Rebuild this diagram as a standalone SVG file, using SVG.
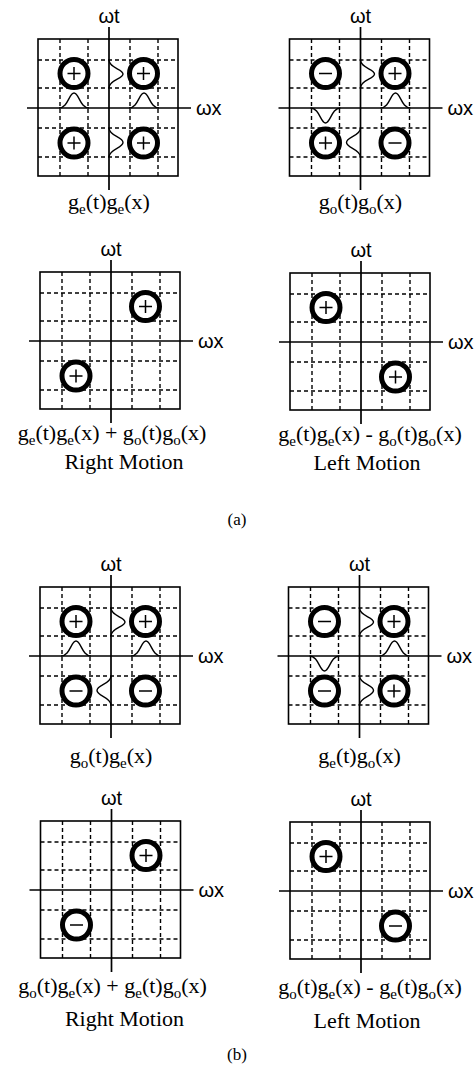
<svg xmlns="http://www.w3.org/2000/svg" xmlns:xlink="http://www.w3.org/1999/xlink" width="474" height="1074" viewBox="0 0 474 1074">
<style>
.box{fill:none;stroke:#000;stroke-width:1.6}
.grid{fill:none;stroke:#000;stroke-width:1.4;stroke-dasharray:4 3}
.axis{fill:none;stroke:#000;stroke-width:1.7}
.ring{fill:#fff;stroke:#000;stroke-width:5}
.sign{fill:none;stroke:#000;stroke-width:1.5}
.bump{fill:none;stroke:#000;stroke-width:1.4}
.ax{font-family:"Liberation Sans",Arial,sans-serif;font-size:20px;fill:#000}
.lab{font-family:"Liberation Serif","Times New Roman",serif;font-size:22px;fill:#000}
.sub{font-size:15px}
.cap{font-family:"Liberation Serif","Times New Roman",serif;font-size:17px;fill:#000}
</style>
<defs>
<g id="frame">
<rect class="box" x="0" y="0" width="140" height="137"/>
<path class="grid" d="M22,0V137M50,0V137M92,0V137M120,0V137M0,21H140M0,49H140M0,89H140M0,118H140"/>
<path class="axis" d="M71,-12V151M-11,69H153"/>
<text class="ax" x="71" y="-16" text-anchor="middle">ωt</text>
<text class="ax" x="158" y="76">ωx</text>
</g>
<g id="pos"><circle class="ring" r="14"/><path class="sign" d="M-6.5,0H6.5M0,-6.5V6.5"/></g>
<g id="neg"><circle class="ring" r="14"/><path class="sign" d="M-6.5,0H6.5"/></g>
</defs>

<g id="p1" transform="translate(38,39)">
<use xlink:href="#frame"/>
<path class="bump" d="M21,69C30,69 31,54 36,54C41,54 42,69 51,69M91,69C100,69 101,54 106,54C111,54 112,69 121,69M71,21C71,29 85,30 85,35C85,40 71,41 71,49M71,89C71,97 85,98 85,103.5C85,109 71,110 71,118"/>
<use xlink:href="#pos" x="36" y="34.5"/><use xlink:href="#pos" x="105.5" y="34.5"/>
<use xlink:href="#pos" x="36" y="104"/><use xlink:href="#pos" x="105.5" y="104"/>
<text class="lab" x="71" y="170" text-anchor="middle">g<tspan class="sub" dy="5">e</tspan><tspan dy="-5">(t)g</tspan><tspan class="sub" dy="5">e</tspan><tspan dy="-5">(x)</tspan></text>
</g>

<g id="p2" transform="translate(289.5,39)">
<use xlink:href="#frame"/>
<path class="bump" d="M21,69C30,69 31,84 36,84C41,84 42,69 51,69M91,69C100,69 101,54 106,54C111,54 112,69 121,69M71,21C71,29 85,30 85,35C85,40 71,41 71,49M71,89C71,97 57,98 57,103.5C57,109 71,110 71,118"/>
<use xlink:href="#neg" x="36" y="34.5"/><use xlink:href="#pos" x="105.5" y="34.5"/>
<use xlink:href="#pos" x="36" y="104"/><use xlink:href="#neg" x="105.5" y="104"/>
<text class="lab" x="71" y="170" text-anchor="middle">g<tspan class="sub" dy="5">o</tspan><tspan dy="-5">(t)g</tspan><tspan class="sub" dy="5">o</tspan><tspan dy="-5">(x)</tspan></text>
</g>

<g id="p3" transform="translate(40,272)">
<use xlink:href="#frame"/>
<use xlink:href="#pos" x="105.5" y="34.5"/><use xlink:href="#pos" x="36" y="104"/>
<text class="lab" x="72" y="168" text-anchor="middle">g<tspan class="sub" dy="5">e</tspan><tspan dy="-5">(t)g</tspan><tspan class="sub" dy="5">e</tspan><tspan dy="-5">(x) + g</tspan><tspan class="sub" dy="5">o</tspan><tspan dy="-5">(t)g</tspan><tspan class="sub" dy="5">o</tspan><tspan dy="-5">(x)</tspan></text>
<text class="lab" x="84" y="197" text-anchor="middle">Right Motion</text>
</g>

<g id="p4" transform="translate(290,273)">
<use xlink:href="#frame"/>
<use xlink:href="#pos" x="36" y="34.5"/><use xlink:href="#pos" x="105.5" y="104"/>
<text class="lab" x="80" y="168" text-anchor="middle">g<tspan class="sub" dy="5">e</tspan><tspan dy="-5">(t)g</tspan><tspan class="sub" dy="5">e</tspan><tspan dy="-5">(x) - g</tspan><tspan class="sub" dy="5">o</tspan><tspan dy="-5">(t)g</tspan><tspan class="sub" dy="5">o</tspan><tspan dy="-5">(x)</tspan></text>
<text class="lab" x="77" y="197" text-anchor="middle">Left Motion</text>
</g>

<text id="cap-a" class="cap" x="237" y="525" text-anchor="middle">(a)</text>

<g id="p5" transform="translate(40,587)">
<use xlink:href="#frame"/>
<path class="bump" d="M21,69C30,69 31,54 36,54C41,54 42,69 51,69M91,69C100,69 101,54 106,54C111,54 112,69 121,69M71,21C71,29 85,30 85,35C85,40 71,41 71,49M71,89C71,97 57,98 57,103.5C57,109 71,110 71,118"/>
<use xlink:href="#pos" x="36" y="34.5"/><use xlink:href="#pos" x="105.5" y="34.5"/>
<use xlink:href="#neg" x="36" y="104"/><use xlink:href="#neg" x="105.5" y="104"/>
<text class="lab" x="71" y="176" text-anchor="middle">g<tspan class="sub" dy="5">o</tspan><tspan dy="-5">(t)g</tspan><tspan class="sub" dy="5">e</tspan><tspan dy="-5">(x)</tspan></text>
</g>

<g id="p6" transform="translate(288.5,587)">
<use xlink:href="#frame"/>
<path class="bump" d="M21,69C30,69 31,84 36,84C41,84 42,69 51,69M91,69C100,69 101,54 106,54C111,54 112,69 121,69M71,21C71,29 85,30 85,35C85,40 71,41 71,49M71,89C71,97 85,98 85,103.5C85,109 71,110 71,118"/>
<use xlink:href="#neg" x="36" y="34.5"/><use xlink:href="#pos" x="105.5" y="34.5"/>
<use xlink:href="#neg" x="36" y="104"/><use xlink:href="#pos" x="105.5" y="104"/>
<text class="lab" x="71" y="176" text-anchor="middle">g<tspan class="sub" dy="5">e</tspan><tspan dy="-5">(t)g</tspan><tspan class="sub" dy="5">o</tspan><tspan dy="-5">(x)</tspan></text>
</g>

<g id="p7" transform="translate(40.5,821)">
<use xlink:href="#frame"/>
<use xlink:href="#pos" x="105.5" y="34.5"/><use xlink:href="#neg" x="36" y="104"/>
<text class="lab" x="72" y="172" text-anchor="middle">g<tspan class="sub" dy="5">o</tspan><tspan dy="-5">(t)g</tspan><tspan class="sub" dy="5">e</tspan><tspan dy="-5">(x) + g</tspan><tspan class="sub" dy="5">e</tspan><tspan dy="-5">(t)g</tspan><tspan class="sub" dy="5">o</tspan><tspan dy="-5">(x)</tspan></text>
<text class="lab" x="84" y="205" text-anchor="middle">Right Motion</text>
</g>

<g id="p8" transform="translate(290,822)">
<use xlink:href="#frame"/>
<use xlink:href="#pos" x="36" y="34.5"/><use xlink:href="#neg" x="105.5" y="104"/>
<text class="lab" x="80" y="172" text-anchor="middle">g<tspan class="sub" dy="5">o</tspan><tspan dy="-5">(t)g</tspan><tspan class="sub" dy="5">e</tspan><tspan dy="-5">(x) - g</tspan><tspan class="sub" dy="5">e</tspan><tspan dy="-5">(t)g</tspan><tspan class="sub" dy="5">o</tspan><tspan dy="-5">(x)</tspan></text>
<text class="lab" x="77" y="206" text-anchor="middle">Left Motion</text>
</g>

<text id="cap-b" class="cap" x="237" y="1060" text-anchor="middle">(b)</text>
</svg>
